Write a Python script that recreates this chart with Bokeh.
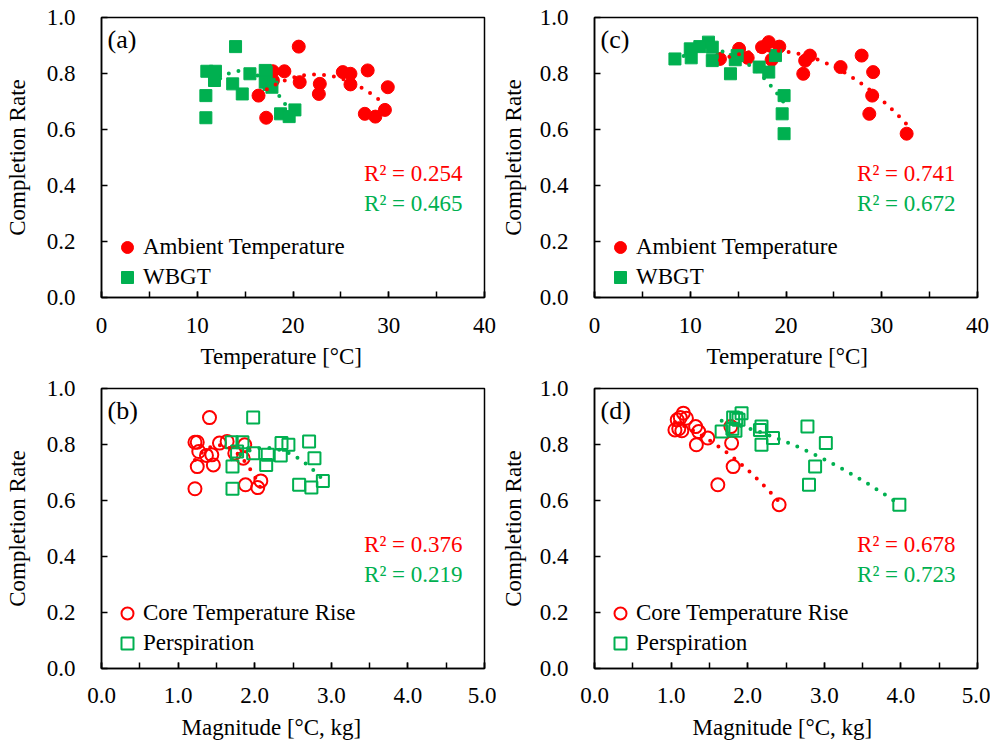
import numpy as np
from bokeh.plotting import figure
from bokeh.layouts import column, row
from bokeh.models import (Range1d, SingleIntervalTicker, PrintfTickFormatter,
                          Legend, LegendItem, Label, Title)
from bokeh.embed import file_html
from bokeh.resources import INLINE

RED = "#FF0000"
GREEN = "#00B050"
FONT = "Liberation Serif"
FS = "23px"

# ---------------- data ----------------
# set 1: panels (a) and (b)
rate_1 = [0.896, 0.811, 0.808, 0.808, 0.805, 0.799, 0.775, 0.769, 0.763,
          0.761, 0.751, 0.727, 0.721, 0.670, 0.656, 0.646, 0.642]
ambient_1 = [20.6, 27.8, 17.9, 19.1, 25.2, 26.0, 17.9, 20.7, 22.8,
             26.0, 29.9, 22.7, 16.4, 29.6, 27.5, 28.6, 17.2]
wbgt_1 = [14.0, 17.1, 11.0, 11.9, 17.2, 15.5, 11.8, 17.1, 13.7,
          17.5, 17.8, 14.7, 10.9, 20.2, 18.7, 19.6, 10.9]
core_1 = [1.41, 1.64, 1.22, 1.25, 1.54, 1.87, 1.27, 1.74, 1.44,
          1.37, 1.85, 1.46, 1.25, 2.08, 1.88, 2.04, 1.22]
persp_1 = [1.98, 2.71, 1.70, 1.84, 2.35, 2.44, 1.77, 1.98, 2.17,
           2.34, 2.78, 2.15, 1.71, 2.89, 2.58, 2.74, 1.71]

# set 2: panels (c) and (d)
rate_2 = [0.912, 0.896, 0.894, 0.888, 0.864, 0.864, 0.856, 0.852,
          0.849, 0.846, 0.823, 0.805, 0.799, 0.721, 0.656, 0.585]
ambient_2 = [18.2, 19.3, 17.5, 15.1, 22.5, 27.9, 16.0, 13.1,
             18.5, 22.0, 25.7, 29.1, 21.8, 29.0, 28.7, 32.6]
wbgt_2 = [11.9, 11.0, 12.3, 10.0, 18.9, 14.9, 10.1, 8.4,
          14.7, 12.3, 17.2, 18.2, 14.2, 19.8, 19.6, 19.8]
core_2 = [1.16, 1.12, 1.20, 1.08, 1.78, 1.32, 1.10, 1.05,
          1.14, 1.36, 1.48, 1.79, 1.33, 1.81, 1.61, 2.41]
persp_2 = [1.92, 1.81, 1.85, 1.88, 2.78, 2.18, 1.80, 2.16,
           1.84, 1.66, 2.33, 3.02, 2.18, 2.88, 2.80, 3.98]

r2_a = ["R² = 0.254", "R² = 0.465"]
r2_b = ["R² = 0.376", "R² = 0.219"]
r2_c = ["R² = 0.741", "R² = 0.672"]
r2_d = ["R² = 0.678", "R² = 0.723"]

legend_temp = ["Ambient Temperature", "WBGT"]
legend_mag = ["Core Temperature Rise", "Perspiration"]

y_label = "Completion Rate"
x_label_temp = "Temperature [°C]"
x_label_mag = "Magnitude [°C, kg]"

temp_range = (0, 40)
mag_range = (0.0, 5.0)
rate_range = (0.0, 1.0)

FW, FH = 383, 280


def trend(p, xs, ys, color):
    c = np.polyfit(xs, ys, 2)
    xx = np.linspace(min(xs), max(xs), 120)
    p.line(xx, np.polyval(c, xx), line_color=color, line_width=4,
           line_dash="0 10", line_cap="round")


def panel(letter, xr, x_int, x_fmt, xs1, xs2, rates, labels, r2, xtitle,
          xoff, filled, left, top, bottom, right, ylab_standoff,
          tick_standoff, title_standoff, leg_y):
    p = figure(frame_width=FW, frame_height=FH, output_backend="svg",
               toolbar_location=None, x_range=Range1d(*xr),
               y_range=Range1d(*rate_range), min_border_left=left,
               min_border_right=right, min_border_top=top,
               min_border_bottom=bottom, background_fill_color="white",
               border_fill_color="white")
    p.grid.visible = False
    p.outline_line_color = "black"
    p.outline_line_width = 1.5

    xa = p.xaxis[0]
    xa.ticker = SingleIntervalTicker(interval=x_int, num_minor_ticks=2)
    xa.formatter = PrintfTickFormatter(format=x_fmt)
    ya = p.yaxis[0]
    ya.ticker = SingleIntervalTicker(interval=0.2, num_minor_ticks=0)
    ya.formatter = PrintfTickFormatter(format="%.1f")
    for ax in (xa, ya):
        ax.axis_line_color = "black"
        ax.axis_line_width = 1.5
        ax.major_tick_in = 6
        ax.major_tick_out = 0
        ax.minor_tick_in = 6
        ax.minor_tick_out = 0
        ax.major_tick_line_color = "black"
        ax.major_tick_line_width = 1.5
        ax.minor_tick_line_color = "black"
        ax.minor_tick_line_width = 1.5
        ax.major_label_text_font = FONT
        ax.major_label_text_font_size = FS
        ax.major_label_text_color = "black"
    ya.minor_tick_line_color = None
    xa.major_label_standoff = tick_standoff
    ya.major_label_standoff = 26
    ya.axis_label = y_label
    ya.axis_label_text_font = FONT
    ya.axis_label_text_font_size = FS
    ya.axis_label_text_font_style = "normal"
    ya.axis_label_text_color = "black"
    ya.axis_label_standoff = ylab_standoff

    p.add_layout(Title(text=xtitle, align="left", offset=xoff,
                       text_font=FONT, text_font_size=FS,
                       text_font_style="normal", text_color="black",
                       standoff=title_standoff, vertical_align="middle"),
                 "below")

    if filled:
        r1 = p.scatter(xs1, rates, marker="circle", size=13,
                       fill_color=RED, line_color=RED)
        r2r = p.scatter(xs2, rates, marker="square", size=12,
                        fill_color=GREEN, line_color=GREEN)
    else:
        r1 = p.scatter(xs1, rates, marker="circle", size=13,
                       fill_color=None, line_color=RED, line_width=2)
        r2r = p.scatter(xs2, rates, marker="square", size=12,
                        fill_color=None, line_color=GREEN, line_width=2)

    trend(p, xs1, rates, RED)
    trend(p, xs2, rates, GREEN)

    leg = Legend(items=[LegendItem(label=labels[0], renderers=[r1]),
                        LegendItem(label=labels[1], renderers=[r2r])],
                 location=(10, leg_y), glyph_width=32, glyph_height=30,
                 label_standoff=0, spacing=-1, padding=0, margin=0,
                 background_fill_alpha=0, border_line_alpha=0,
                 label_text_font=FONT, label_text_font_size=FS,
                 label_text_color="black")
    p.add_layout(leg)

    p.add_layout(Label(x=FW - 22, y=124, x_units="screen", y_units="screen",
                       text=r2[0], text_align="right", text_baseline="middle",
                       text_font=FONT, text_font_size=FS, text_color=RED))
    p.add_layout(Label(x=FW - 22, y=94, x_units="screen", y_units="screen",
                       text=r2[1], text_align="right", text_baseline="middle",
                       text_font=FONT, text_font_size=FS,
                       text_color=GREEN))
    p.add_layout(Label(x=6, y=FH - 22, x_units="screen", y_units="screen",
                       text=letter, text_align="left", text_baseline="middle",
                       text_font=FONT, text_font_size="26px",
                       text_color="black"))
    return p


pa = panel("(a)", temp_range, 10, "%d", ambient_1, wbgt_1, rate_1,
           legend_temp, r2_a, x_label_temp, 99, True,
           101, 17, 78, 12, 14, 20, 14, 5)
pc = panel("(c)", temp_range, 10, "%d", ambient_2, wbgt_2, rate_2,
           legend_temp, r2_c, x_label_temp, 112, True,
           98, 17, 78, 13, 11, 20, 14, 5)
pb = panel("(b)", mag_range, 1, "%.1f", core_1, persp_1, rate_1,
           legend_mag, r2_b, x_label_mag, 80, False,
           101, 12, 80, 12, 14, 19, 17, 10)
pd_ = panel("(d)", mag_range, 1, "%.1f", core_2, persp_2, rate_2,
            legend_mag, r2_d, x_label_mag, 98, False,
            98, 12, 80, 13, 11, 19, 17, 10)

layout = column(row(pa, pc), row(pb, pd_))
open("out.html", "w").write(file_html(layout, INLINE))
